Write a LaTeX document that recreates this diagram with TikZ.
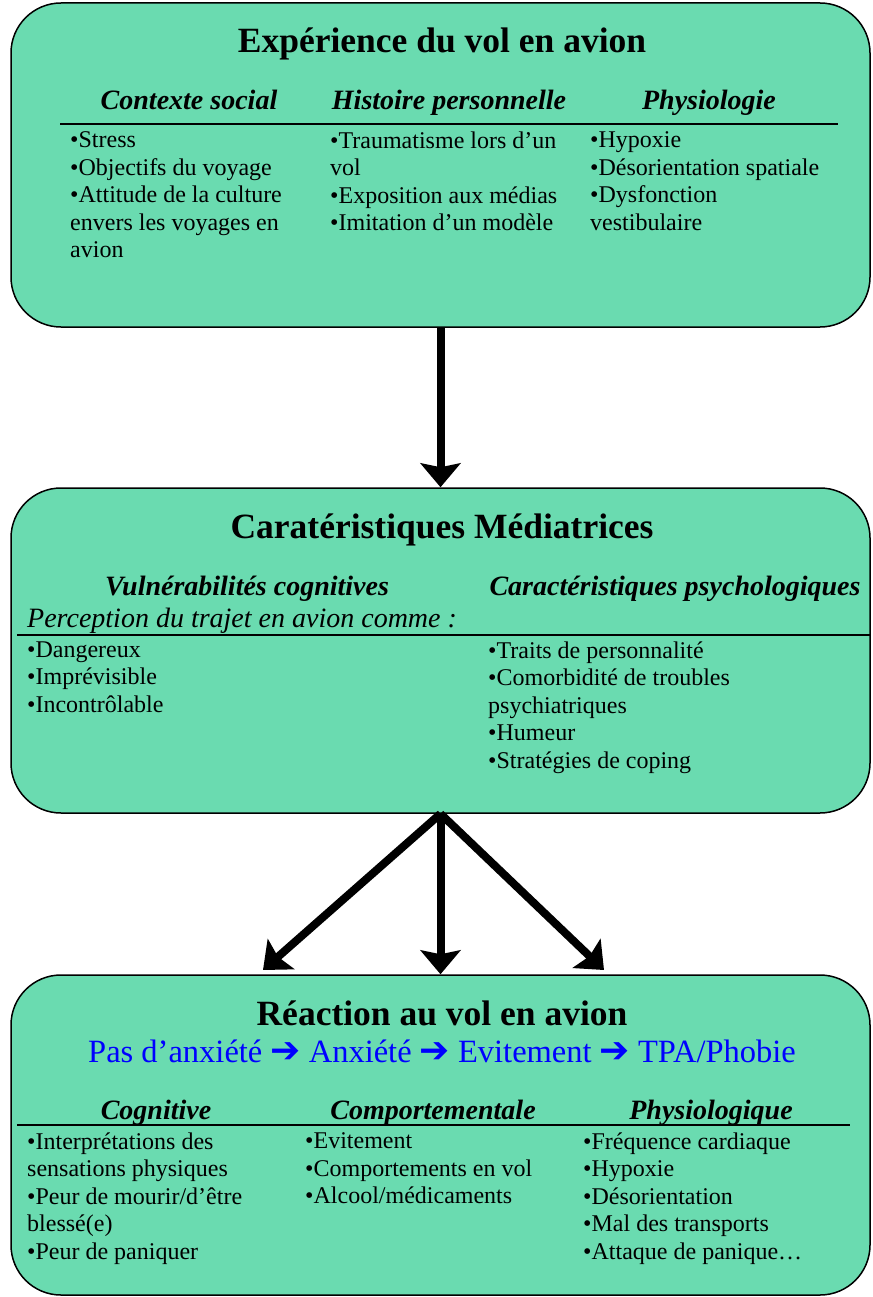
\documentclass[tikz,border=0pt]{standalone}
\usepackage{fontspec}
\setmainfont{Liberation Serif}
\newfontfamily\arrowfont{DejaVu Sans}
\usepackage{xcolor}
\usetikzlibrary{arrows.meta}

\definecolor{panelgreen}{RGB}{106,219,176}
\definecolor{flowblue}{RGB}{0,0,255}

\tikzset{
	panel/.style = {rectangle, draw = black, line width = 1.5pt, fill = panelgreen, rounded corners = 50pt, inner sep = 0pt},
	heading/.style = {anchor = base, inner sep = 0pt, font = \fontsize{35.5}{40}\selectfont\bfseries},
	colhead/.style = {anchor = base, inner sep = 0pt, font = \fontsize{28}{32}\selectfont\bfseries\itshape},
	items/.style = {anchor = north west, align = left, inner sep = 0pt, font = \fontsize{24}{27.5}\selectfont, execute at begin node = \strut},
	sepline/.style = {draw = black, line width = 1.2pt},
	bigarrow/.style = {-{Stealth[length = 24pt, width = 40pt, inset = 4pt]}, line width = 8pt}
}
\newcommand{\flowarrow}{{\arrowfont\bfseries\fontsize{36}{36}\selectfont ➔}}

\begin{document}
\begin{tikzpicture}[x = 1pt, y = -1pt]
		\useasboundingbox (0,0) rectangle (872,1297);
		
		\node (exp)[panel, minimum width = 859pt, minimum height = 324pt] at (440.5,165) {};
		\node (med)[panel, minimum width = 859pt, minimum height = 325pt] at (440.5,650.5) {};
		\node (rea)[panel, minimum width = 859pt, minimum height = 320pt] at (440.5,1135) {};
		
		\node (expt)[heading] at (442,53) {Expérience du vol en avion};
		\node (cs)[colhead] at (189,110) {Contexte social};
		\node (hp)[colhead] at (449,110) {Histoire personnelle};
		\node (ph)[colhead] at (709,110) {Physiologie};
		\draw[sepline] (60,124) -- (838,124);
		\node (csl)[items] at (70,131.5) {•Stress\\•Objectifs du voyage\\•Attitude de la culture\\envers les voyages en\\avion};
		\node (hpl)[items] at (330,131.5) {•Traumatisme lors d’un\\vol\\•Exposition aux médias\\•Imitation d’un modèle};
		\node (phl)[items] at (590,131.5) {•Hypoxie\\•Désorientation spatiale\\•Dysfonction\\vestibulaire};
		
		\node (medt)[heading] at (442,538) {Caratéristiques Médiatrices};
		\node (vc)[colhead] at (247,595) {Vulnérabilités cognitives};
		\node (cp)[colhead] at (675,595) {Caractéristiques psychologiques};
		\node (pt)[anchor = base west, inner sep = 0pt, font = \fontsize{28}{32}\selectfont\itshape] at (27,627) {Perception du trajet en avion comme :};
		\draw[sepline] (17,635) -- (870,635);
		\node (vcl)[items] at (27,641.5) {•Dangereux\\•Imprévisible\\•Incontrôlable};
		\node (cpl)[items] at (488,641.5) {•Traits de personnalité\\•Comorbidité de troubles\\psychiatriques\\•Humeur\\•Stratégies de coping};
		
		\node (reat)[heading] at (442,1025) {Réaction au vol en avion};
		\node (flow)[anchor = base, inner sep = 0pt, flowblue, font = \fontsize{32.5}{36}\selectfont] at (442,1062) {Pas d’anxiété \flowarrow{} Anxiété \flowarrow{} Evitement \flowarrow{} TPA/Phobie};
		\node (cg)[colhead] at (156,1119) {Cognitive};
		\node (cm)[colhead] at (433,1119) {Comportementale};
		\node (py)[colhead] at (711,1119) {Physiologique};
		\draw[sepline] (17,1125) -- (850,1125);
		\node (cgl)[items] at (27,1132.5) {•Interprétations des\\sensations physiques\\•Peur de mourir/d’être\\blessé(e)\\•Peur de paniquer};
		\node (cml)[items] at (305,1132.5) {•Evitement\\•Comportements en vol\\•Alcool/médicaments};
		\node (pyl)[items] at (583,1132.5) {•Fréquence cardiaque\\•Hypoxie\\•Désorientation\\•Mal des transports\\•Attaque de panique…};
		
		\coordinate (left) at (263,970);
		\coordinate (right) at (604,970);
		
		\draw[bigarrow] (exp.south) -- (med.north);
		\draw[bigarrow] (med.south) -- (left);
		\draw[bigarrow] (med.south) -- (rea.north);
		\draw[bigarrow] (med.south) -- (right);
	\end{tikzpicture}
\end{document}
